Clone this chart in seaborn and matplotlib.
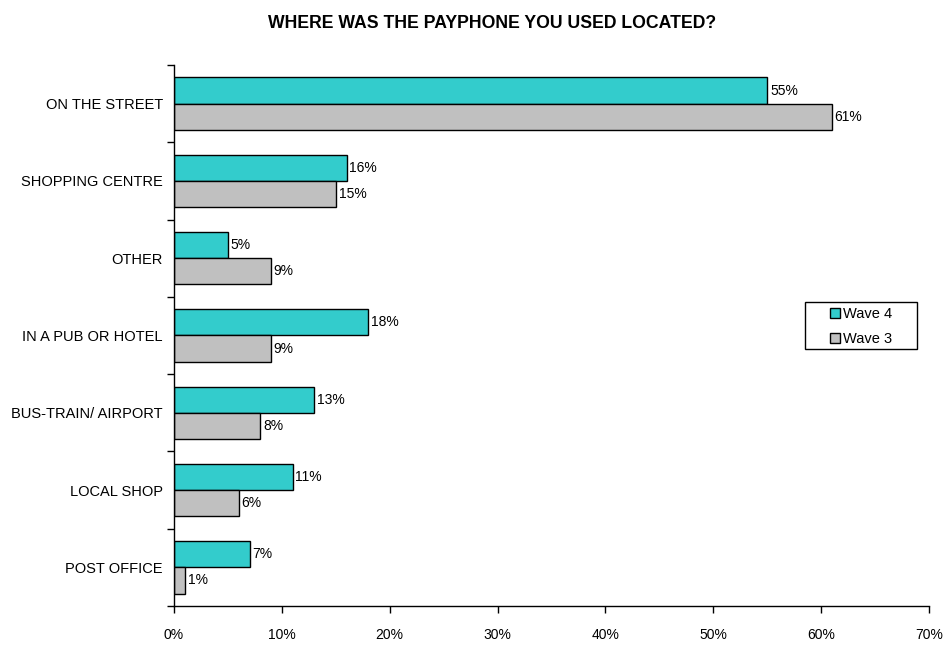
import matplotlib
matplotlib.use("Agg")
import matplotlib.pyplot as plt
from matplotlib.patches import Rectangle
from matplotlib.ticker import FixedLocator, PercentFormatter
import seaborn as sns
import pandas as pd

categories = ["ON THE STREET", "SHOPPING CENTRE", "OTHER", "IN A PUB OR HOTEL",
              "BUS-TRAIN/ AIRPORT", "LOCAL SHOP", "POST OFFICE"]
wave4 = [55, 16, 5, 18, 13, 11, 7]
wave3 = [61, 15, 9, 9, 8, 6, 1]
series = ["Wave 4", "Wave 3"]
colors = ["#33CCCC", "#C0C0C0"]

df = pd.DataFrame({
    "category": categories * 2,
    "value": wave4 + wave3,
    "wave": [series[0]] * len(categories) + [series[1]] * len(categories),
})

sns.set_style("white")
plt.rcParams["font.family"] = ["Liberation Sans", "DejaVu Sans"]
for key in ["text.color", "axes.labelcolor", "xtick.color", "ytick.color"]:
    plt.rcParams[key] = "black"

W, H = 946, 648
fig = plt.figure(figsize=(W / 100, H / 100), dpi=100)
ax = fig.add_axes([174 / W, 42 / H, (929 - 174) / W, (606 - 65) / H])

sns.barplot(data=df, y="category", x="value", hue="wave", order=categories,
            hue_order=series, palette=colors, orient="h", width=0.68,
            edgecolor="black", linewidth=1.0, ax=ax, saturation=1)

for cont in ax.containers:
    ax.bar_label(cont, labels=[f"{int(round(v))}%" for v in cont.datavalues],
                 padding=2, fontsize=10)

ax.set_xlim(0, 70)
ax.set_ylim(len(categories) - 0.5, -0.5)
ax.xaxis.set_major_locator(FixedLocator(range(0, 71, 10)))
ax.xaxis.set_major_formatter(PercentFormatter(decimals=0))
ax.set_xlabel("")
ax.set_ylabel("")

# category boundaries carry the tick marks on the category axis
ax.yaxis.set_minor_locator(FixedLocator([i - 0.5 for i in range(len(categories) + 1)]))
ax.tick_params(axis="y", which="major", length=0, pad=8, labelsize=10.5)
ax.tick_params(axis="y", which="minor", length=5, width=1, color="black", direction="out", left=True)
ax.tick_params(axis="x", which="major", length=5, width=1, color="black", direction="out",
               bottom=True, labelsize=10, pad=11)

for side in ["top", "right"]:
    ax.spines[side].set_visible(False)
for side in ["left", "bottom"]:
    ax.spines[side].set_color("black")
    ax.spines[side].set_linewidth(1)

# legend entries without frame, boxed by a separate rectangle
leg = ax.legend(loc="center", bbox_to_anchor=(861 / W, 1 - 326.5 / H),
                bbox_transform=fig.transFigure,
                frameon=False, fontsize=10.5,
                handlelength=0.7, handleheight=0.7, handletextpad=0.25,
                borderpad=0.0, labelspacing=0.72)
for h in leg.legend_handles:
    h.set_edgecolor("black")
    h.set_linewidth(1)
fig.patches.append(Rectangle((805 / W, 1 - 349 / H), 112 / W, 47 / H,
                             transform=fig.transFigure, fill=False,
                             edgecolor="black", linewidth=1))

fig.text(492 / W, 1 - 24 / H, "WHERE WAS THE PAYPHONE YOU USED LOCATED?",
         ha="center", va="center", fontsize=12.7, fontweight="bold")

fig.savefig("out.png", dpi=100)
